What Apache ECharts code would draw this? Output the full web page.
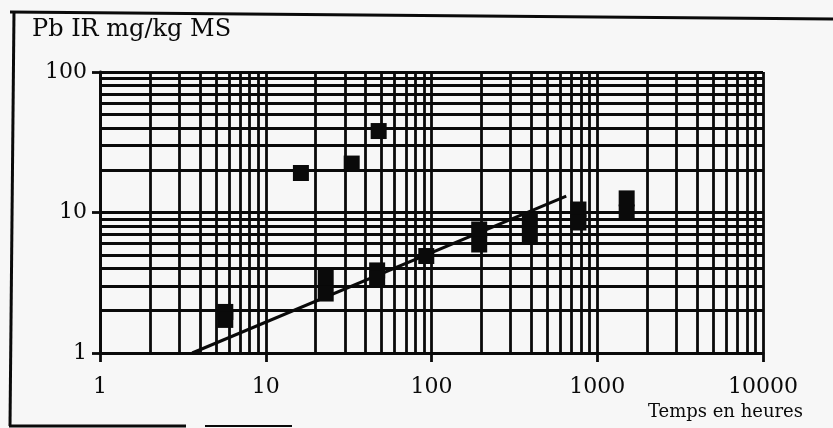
<!DOCTYPE html>
<html>
<head>
<meta charset="utf-8">
<script src="https://cdn.jsdelivr.net/npm/echarts@6/dist/echarts.min.js"></script>
<style>
html,body{margin:0;padding:0;background:#f7f7f7;}
#chart{width:833px;height:428px;}
</style>
</head>
<body>
<div id="chart"></div>
<script>
// Data
const xLower = [5.7, 5.7, 23, 23, 47, 47, 93, 194, 194, 392, 392, 770, 770, 1505, 1505];
const yLower = [1.96, 1.72, 3.44, 2.65, 3.87, 3.39, 4.9, 7.57, 5.92, 8.77, 6.97, 10.5, 8.49, 12.6, 10.0];
const xUpper = [16.3, 33, 48];
const yUpper = [19.1, 22.3, 38];
const fitX = [3.6, 650];
const fitY = [1, 13.1];
const xDecades = [1, 10, 100, 1000, 10000];
const yDecades = [1, 10, 100];
const minorMult = [2, 3, 4, 5, 6, 7, 8, 9];
const titleText = 'Pb IR mg/kg MS';
const xName = 'Temps en heures';

const FONT = 'DejaVu Serif';
const INK = '#0a0a0a';

function gridValues(decades) {
  const v = decades.slice();
  for (let i = 0; i < decades.length - 1; i++) {
    minorMult.forEach(m => v.push(decades[i] * m));
  }
  return v;
}
const xGrid = gridValues(xDecades);
const yGrid = gridValues(yDecades);
const plain = v => String(Math.round(v));

const chart = echarts.init(document.getElementById('chart'), null, {renderer: 'canvas'});
chart.setOption({
  backgroundColor: '#f7f7f7',
  animation: false,
  title: {
    text: titleText,
    left: 32, top: 18, padding: 0,
    textStyle: {fontFamily: FONT, fontSize: 24, fontWeight: 'normal', color: INK}
  },
  grid: {left: 100, right: 70, top: 72, bottom: 75},
  xAxis: {
    type: 'log', logBase: 10, min: 1, max: 10000,
    name: xName, nameLocation: 'end', nameGap: 40,
    nameTextStyle: {fontFamily: FONT, fontSize: 18, color: INK, align: 'right', verticalAlign: 'top', padding: [50, 0, 0, 0]},
    axisLine: {show: true, lineStyle: {color: INK, width: 2.8}},
    axisTick: {show: true, inside: false, length: 9, lineStyle: {color: INK, width: 2.8}},
    axisLabel: {fontFamily: FONT, fontSize: 22, color: INK, margin: 23, formatter: plain},
    splitLine: {show: false},
    minorTick: {show: false}
  },
  yAxis: {
    type: 'log', logBase: 10, min: 1, max: 100,
    axisLine: {show: true, lineStyle: {color: INK, width: 2.8}},
    axisTick: {show: true, inside: false, length: 8, lineStyle: {color: INK, width: 2.8}},
    axisLabel: {fontFamily: FONT, fontSize: 22, color: INK, margin: 13, padding: [0, 0, 12, 0], formatter: plain},
    splitLine: {show: false}
  },
  series: [
    {
      type: 'line', data: [], silent: true, z: 1,
      markLine: {
        silent: true, symbol: 'none', animation: false, z: 1,
        label: {show: false},
        lineStyle: {color: INK, width: 2.8, type: 'solid', opacity: 1},
        emphasis: {disabled: true},
        data: xGrid.map(v => ({xAxis: v})).concat(yGrid.map(v => ({yAxis: v})))
      }
    },
    {
      type: 'line',
      data: fitX.map((x, i) => [x, fitY[i]]),
      showSymbol: false, symbol: 'none',
      lineStyle: {color: INK, width: 3},
      z: 5
    },
    {
      type: 'scatter', symbol: 'rect', symbolSize: [16, 16],
      itemStyle: {color: INK, opacity: 1},
      data: xLower.map((x, i) => [x, yLower[i]]),
      z: 6
    },
    {
      type: 'scatter', symbol: 'rect', symbolSize: [16, 16],
      itemStyle: {color: INK, opacity: 1},
      data: xUpper.map((x, i) => [x, yUpper[i]]),
      z: 6
    }
  ],
  graphic: [
    {type: 'polyline', shape: {points: [[10, 12], [833, 19]]}, style: {stroke: INK, lineWidth: 3}},
    {type: 'polyline', shape: {points: [[14, 11], [10, 426]]}, style: {stroke: INK, lineWidth: 3}},
    {type: 'polyline', shape: {points: [[9, 426], [186, 426]]}, style: {stroke: INK, lineWidth: 3}},
    {type: 'polyline', shape: {points: [[205, 426], [292, 426]]}, style: {stroke: INK, lineWidth: 2}}
  ]
});
</script>
</body>
</html>
